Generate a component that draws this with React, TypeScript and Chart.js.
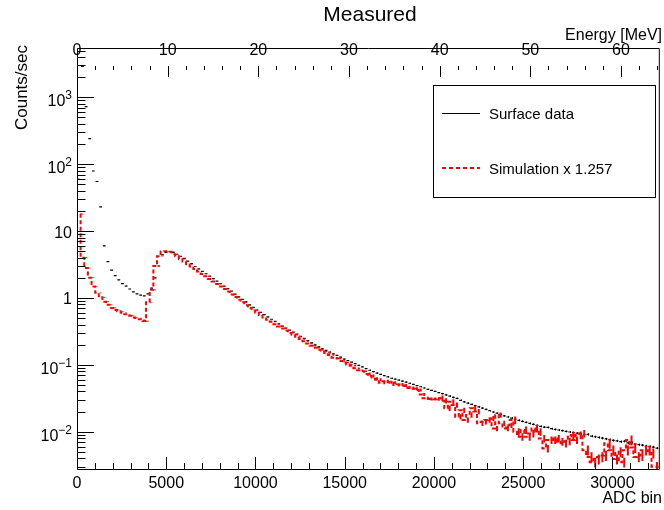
import React, { useEffect, useRef } from "react";
import { Chart, registerables } from "chart.js";

Chart.register(...registerables);

// ---------------- data ----------------
const ADC_MAX = 32600;
const N_BINS = 160;
const ADC_PER_MEV = 508;
const Y_MIN = 0.00277;
const Y_MAX = 5450;

const TITLE = "Measured";
const X_TITLE = "ADC bin";
const X2_TITLE = "Energy [MeV]";
const Y_TITLE = "Counts/sec";
const LEGEND_LABELS = ["Surface data", "Simulation x 1.257"];

const xTickLabels = [0, 5000, 10000, 15000, 20000, 25000, 30000];
const energyTickLabels = [0, 10, 20, 30, 40, 50, 60];
const yDecades = [-2, -1, 0, 1, 2, 3];

// Surface data (black), counts/sec per bin
const surfaceData: (number | null)[] = [
  null, 2900, 725, 240, 79, 55, 23, 6.0, 3.5, 2.6,
  2.15, 1.86, 1.64, 1.5, 1.36, 1.23, 1.15, 1.1, 1.07, 1.15,
  1.4, 2.0, 3.0, 4.4, 4.8, 4.9, 4.8, 4.5, 4.2, 3.9,
  3.55, 3.25, 2.95, 2.72, 2.5, 2.3, 2.12, 1.95, 1.78, 1.63,
  1.5, 1.38, 1.27, 1.14, 1.04, 0.95, 0.87, 0.79, 0.72, 0.66,
  0.61, 0.565, 0.52, 0.48, 0.445, 0.41, 0.38, 0.355, 0.33, 0.308,
  0.287, 0.266, 0.248, 0.23, 0.213, 0.198, 0.185, 0.174, 0.164, 0.155,
  0.146, 0.138, 0.13, 0.122, 0.116, 0.11, 0.104, 0.098, 0.093, 0.088,
  0.083, 0.079, 0.075, 0.072, 0.069, 0.066, 0.063, 0.061, 0.059, 0.057,
  0.055, 0.053, 0.051, 0.049, 0.047, 0.045, 0.043, 0.0415, 0.04, 0.0385,
  0.037, 0.0355, 0.034, 0.0325, 0.0315, 0.0295, 0.028, 0.0268, 0.0256, 0.0245,
  0.0235, 0.0225, 0.0215, 0.0206, 0.0197, 0.0189, 0.0181, 0.0173, 0.0166, 0.016,
  0.0154, 0.0148, 0.0143, 0.0138, 0.0133, 0.0129, 0.0124, 0.012, 0.0117, 0.0116,
  0.0111, 0.0108, 0.0106, 0.0104, 0.0101, 0.0099, 0.0097, 0.0095, 0.0093, 0.009,
  0.0091, 0.0086, 0.0084, 0.0082, 0.008, 0.0078, 0.0076, 0.0074, 0.0073, 0.0071,
  0.0072, 0.0068, 0.0069, 0.0065, 0.0064, 0.0063, 0.0061, 0.006, 0.0059, 0.0057,
];

// Simulation x 1.257 (red dashed)
const simData: number[] = [
  61, 17.9, 4.0, 2.8, 2.0, 1.48, 1.19, 1.02, 0.88, 0.79,
  0.71, 0.66, 0.63, 0.6, 0.57, 0.54, 0.51, 0.5, 0.48, 0.45,
  0.86, 1.32, 3.0, 4.2, 4.95, 5.0, 4.9, 4.5, 4.2, 3.8,
  3.5, 3.2, 2.95, 2.7, 2.48, 2.28, 2.1, 1.92, 1.76, 1.62,
  1.48, 1.36, 1.25, 1.13, 1.03, 0.94, 0.86, 0.78, 0.71, 0.65,
  0.6, 0.555, 0.51, 0.47, 0.44, 0.405, 0.375, 0.35, 0.325, 0.3,
  0.282, 0.262, 0.244, 0.226, 0.208, 0.193, 0.18, 0.168, 0.158, 0.15,
  0.14, 0.128, 0.124, 0.114, 0.108, 0.101, 0.097, 0.089, 0.083, 0.08,
  0.073, 0.068, 0.062, 0.06, 0.054, 0.057, 0.055, 0.054, 0.05, 0.051,
  0.049, 0.046, 0.045, 0.044, 0.042, 0.036, 0.0316, 0.0308, 0.031, 0.0305,
  0.032, 0.029, 0.0224, 0.028, 0.025, 0.0168, 0.021, 0.015, 0.0178, 0.0224,
  0.02, 0.0134, 0.0141, 0.015, 0.0158, 0.0112, 0.0178, 0.0134, 0.0112, 0.0125,
  0.015, 0.01, 0.0084, 0.0106, 0.0084, 0.0094, 0.0112, 0.01, 0.0079, 0.0056,
  0.0075, 0.0075, 0.0079, 0.0071, 0.0067, 0.0072, 0.0089, 0.0075, 0.0089, 0.0094,
  0.0053, 0.0042, 0.0035, 0.0039, 0.0042, 0.0044, 0.0067, 0.0053, 0.0039, 0.005,
  0.0035, 0.0053, 0.0075, 0.0058, 0.0042, 0.0044, 0.0053, 0.0053, 0.0048, 0.003,
];

// relative errors, one entry per block of 20 bins
const surfaceRelErr = [0.002, 0.003, 0.004, 0.01, 0.018, 0.025, 0.032, 0.04];
const simRelErr = [0.01, 0.01, 0.012, 0.025, 0.05, 0.09, 0.13, 0.17];

// ---------------- helpers ----------------
const FONT = "'Liberation Sans', Arial, Helvetica, sans-serif";
const BIN_W = ADC_MAX / N_BINS;
const binCenter = (i: number) => (i + 0.5) * BIN_W;

function drawErrors(chart: any, values: (number | null)[], relErr: number[], color: string, width: number) {
  const { ctx, chartArea: a, scales } = chart;
  const x = scales.x;
  const y = scales.y;
  ctx.save();
  ctx.beginPath();
  ctx.rect(a.left, a.top, a.right - a.left, a.bottom - a.top);
  ctx.clip();
  ctx.strokeStyle = color;
  ctx.lineWidth = width;
  ctx.beginPath();
  values.forEach((v, i) => {
    if (v == null) return;
    const e = relErr[Math.floor(i / 20)];
    if (!e) return;
    let px = x.getPixelForValue(binCenter(i));
    if (width === 1) px = Math.round(px) + 0.5;
    ctx.moveTo(px, y.getPixelForValue(v * (1 + e)));
    ctx.lineTo(px, y.getPixelForValue(v * (1 - e)));
  });
  ctx.stroke();
  ctx.restore();
}

const rootDecor = {
  id: "rootDecor",
  beforeDatasetsDraw(chart: any) {
    drawErrors(chart, surfaceData, surfaceRelErr, "#000", 1);
  },
  afterDatasetsDraw(chart: any) {
    drawErrors(chart, simData, simRelErr, "#ff0000", 2);
  },
  afterDraw(chart: any) {
    const { ctx, chartArea: a, scales } = chart;
    const x = scales.x;
    const y = scales.y;
    ctx.save();
    ctx.strokeStyle = "#000";
    ctx.fillStyle = "#000";
    ctx.lineWidth = 1;

    // frame
    ctx.beginPath();
    ctx.moveTo(a.left + 0.5, a.top + 0.5);
    ctx.lineTo(a.right + 0.5, a.top + 0.5);
    ctx.lineTo(a.right + 0.5, a.bottom + 0.5);
    ctx.lineTo(a.left + 0.5, a.bottom + 0.5);
    ctx.closePath();
    ctx.stroke();

    // y ticks (inside, left)
    ctx.beginPath();
    for (let d = -3; d <= 4; d++) {
      for (let m = 1; m <= 9; m++) {
        const v = m * Math.pow(10, d);
        if (v < Y_MIN || v > Y_MAX) continue;
        const py = Math.round(y.getPixelForValue(v)) + 0.5;
        const len = m === 1 ? 17 : 8.5;
        ctx.moveTo(a.left, py);
        ctx.lineTo(a.left + len, py);
      }
    }
    // x ticks bottom
    for (let v = 0; v <= ADC_MAX; v += 1000) {
      const px = Math.round(x.getPixelForValue(v)) + 0.5;
      const len = v % 5000 === 0 ? 12 : 6;
      ctx.moveTo(px, a.bottom);
      ctx.lineTo(px, a.bottom - len);
    }
    // energy ticks (top)
    for (let e = 0; e <= 70; e += 2) {
      const px = Math.round(x.getPixelForValue(e * ADC_PER_MEV)) + 0.5;
      if (px > a.right + 1) continue;
      const len = e % 10 === 0 ? 11 : 4;
      ctx.moveTo(px, a.top + 18);
      ctx.lineTo(px, a.top + 18 + len);
    }
    ctx.stroke();

    // y labels
    ctx.textBaseline = "alphabetic";
    ctx.textAlign = "left";
    const rightX = a.left - 5;
    yDecades.forEach((d) => {
      const py = y.getPixelForValue(Math.pow(10, d));
      ctx.font = `16px ${FONT}`;
      if (d === 0 || d === 1) {
        const t = d === 0 ? "1" : "10";
        const w = ctx.measureText(t).width;
        ctx.fillText(t, rightX - w, py + 6.5);
      } else {
        const ex = d < 0 ? "\u2212" + String(-d) : String(d);
        ctx.font = `12px ${FONT}`;
        const ew = ctx.measureText(ex).width;
        ctx.fillText(ex, rightX - ew, py + 2);
        ctx.font = `16px ${FONT}`;
        const bw = ctx.measureText("10").width;
        ctx.fillText("10", rightX - ew - bw, py + 9);
      }
    });

    // energy labels
    ctx.font = `16px ${FONT}`;
    ctx.textAlign = "center";
    energyTickLabels.forEach((e) => {
      const px = x.getPixelForValue(e * ADC_PER_MEV);
      ctx.fillText(String(e), px, a.top + 7);
    });

    // axis titles
    ctx.textAlign = "right";
    ctx.fillText(X2_TITLE, 662, 40);
    ctx.fillText(X_TITLE, 662, 503);

    ctx.save();
    ctx.font = `17px ${FONT}`;
    ctx.translate(27, 45);
    ctx.rotate(-Math.PI / 2);
    ctx.textAlign = "right";
    ctx.fillText(Y_TITLE, 0, 0);
    ctx.restore();

    // title
    ctx.font = `21px ${FONT}`;
    ctx.textAlign = "center";
    ctx.fillText(TITLE, 370, 21);

    // legend
    const lx = 433.5, ly = 85.5, lw = 222, lh = 112;
    ctx.fillStyle = "#fff";
    ctx.fillRect(lx, ly, lw, lh);
    ctx.strokeStyle = "#000";
    ctx.lineWidth = 1;
    ctx.strokeRect(lx, ly, lw, lh);

    ctx.beginPath();
    ctx.moveTo(442, 113.5);
    ctx.lineTo(480, 113.5);
    ctx.stroke();

    ctx.save();
    ctx.strokeStyle = "#ff0000";
    ctx.lineWidth = 2;
    ctx.setLineDash([4, 3]);
    ctx.beginPath();
    ctx.moveTo(442, 168);
    ctx.lineTo(480, 168);
    ctx.stroke();
    ctx.restore();

    ctx.fillStyle = "#000";
    ctx.font = `15px ${FONT}`;
    ctx.textAlign = "left";
    ctx.fillText(LEGEND_LABELS[0], 489, 119);
    ctx.fillText(LEGEND_LABELS[1], 489, 173.5);

    ctx.restore();
  },
};

export default function App() {
  const ref = useRef<HTMLCanvasElement | null>(null);

  useEffect(() => {
    document.body.style.margin = "0";
    const canvas = ref.current;
    if (!canvas) return;

    const blackPts = surfaceData
      .map((v, i) => (v == null ? null : { x: binCenter(i), y: v }))
      .filter((p) => p !== null) as { x: number; y: number }[];

    const redPts = simData.map((v, i) => ({ x: i * BIN_W, y: v }));
    redPts.push({ x: N_BINS * BIN_W, y: simData[simData.length - 1] });

    const chart = new Chart(canvas, {
      type: "line",
      data: {
        datasets: [
          {
            label: LEGEND_LABELS[1],
            data: redPts,
            stepped: "after",
            borderColor: "#ff0000",
            borderWidth: 2,
            borderDash: [4, 2.5],
            pointRadius: 0,
            fill: false,
          } as any,
          {
            label: LEGEND_LABELS[0],
            data: blackPts,
            showLine: false,
            pointStyle: "line",
            pointRadius: 1.4,
            pointBorderWidth: 1.2,
            pointBorderColor: "#000",
            pointBackgroundColor: "#000",
            borderColor: "#000",
          } as any,
        ],
      },
      options: {
        animation: false,
        responsive: false,
        events: [],
        layout: { padding: { top: 48, right: 3, left: 0, bottom: 0 } },
        plugins: {
          legend: { display: false },
          title: { display: false },
          tooltip: { enabled: false },
        },
        scales: {
          x: {
            type: "linear",
            min: 0,
            max: ADC_MAX,
            position: "bottom",
            grid: { display: false, drawTicks: false },
            border: { display: false },
            afterBuildTicks: (s: any) => {
              s.ticks = xTickLabels.map((v) => ({ value: v }));
            },
            ticks: {
              autoSkip: false,
              maxRotation: 0,
              padding: 5,
              color: "#000",
              font: { family: FONT, size: 16 },
              callback: (v: any) => String(v),
            },
            afterFit: (s: any) => {
              s.height = 41;
            },
          },
          y: {
            type: "logarithmic",
            min: Y_MIN,
            max: Y_MAX,
            grid: { display: false },
            border: { display: false },
            ticks: { display: false },
            afterFit: (s: any) => {
              s.width = 77;
            },
          },
        },
      } as any,
      plugins: [rootDecor],
    });

    return () => chart.destroy();
  }, []);

  return (
    <div style={{ width: 664, height: 510, background: "#fff" }}>
      <canvas ref={ref} width={664} height={510} style={{ width: 664, height: 510, display: "block" }} />
    </div>
  );
}
